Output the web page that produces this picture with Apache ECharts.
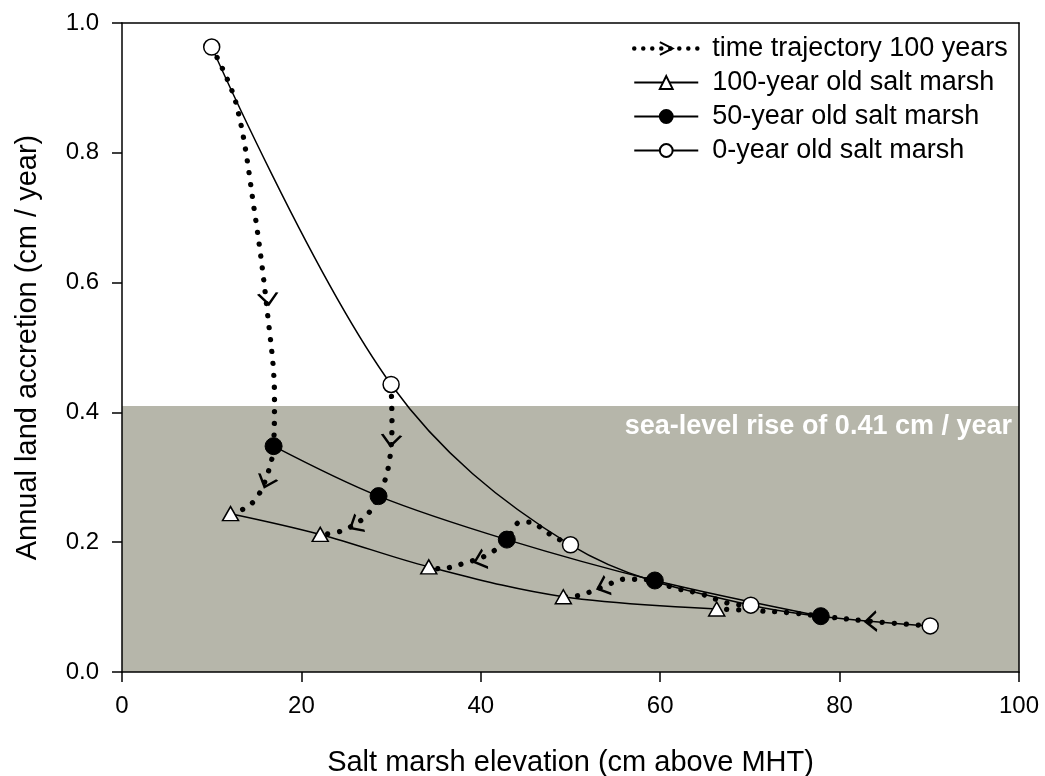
<!DOCTYPE html>
<html><head><meta charset="utf-8">
<script src="https://cdn.jsdelivr.net/npm/echarts@6/dist/echarts.min.js"></script>
<style>html,body{margin:0;padding:0;background:#fff}#chart{width:1045px;height:776px}</style>
</head><body><div id="chart"></div>
<script>
// ---- data ----
const xTicks = [0, 20, 40, 60, 80, 100];
const yTicks = [0.0, 0.2, 0.4, 0.6, 0.8, 1.0];
const xTitle = 'Salt marsh elevation (cm above MHT)';
const yTitle = 'Annual land accretion (cm / year)';
const seaLevelRise = 0.41;
const seaLevelLabel = 'sea-level rise of 0.41 cm / year';
const nameTraj = 'time trajectory 100 years';
const name100 = '100-year old salt marsh';
const name50 = '50-year old salt marsh';
const name0 = '0-year old salt marsh';

const marsh0 = [[10, 0.963], [30, 0.443], [50, 0.196], [70.1, 0.103], [90.1, 0.071]];
const marsh50 = [[16.9, 0.348], [28.6, 0.271], [42.9, 0.204], [59.4, 0.141], [77.9, 0.086]];
const marsh100 = [[12.1, 0.244], [22.1, 0.212], [34.2, 0.162], [49.2, 0.116], [66.3, 0.097]];

const traj10 = [[10, 0.963], [12.7, 0.877], [14.8, 0.707], [16.2, 0.555], [17.0, 0.424], [16.9, 0.348], [16.3, 0.308], [15.1, 0.270], [13.8, 0.253], [12.1, 0.244]];
const traj30 = [[30, 0.443], [30.1, 0.383], [29.7, 0.316], [28.6, 0.271], [27.1, 0.239], [24.4, 0.217], [22.1, 0.212]];
const traj50 = [[50, 0.196], [48.2, 0.208], [46.9, 0.220], [45.6, 0.231], [44.4, 0.231], [42.9, 0.204], [40.8, 0.181], [38.0, 0.167], [35.4, 0.159], [34.2, 0.162]];
const traj70 = [[70.1, 0.103], [67.9, 0.105], [64.4, 0.121], [61.4, 0.130], [59.4, 0.141], [56.0, 0.143], [53.6, 0.131], [50.6, 0.117], [49.2, 0.116]];
const traj90 = [[90.1, 0.071], [83.5, 0.078], [77.9, 0.086], [74.7, 0.091], [70.0, 0.095], [66.3, 0.097]];
const trajectories = [traj10, traj30, traj50, traj70, traj90];

// arrow heads on the trajectories: x, y, direction (degrees, counter-clockwise from +x)
const arrowX = [16.3, 16.1, 30.0, 26.0, 39.9, 53.6, 83.5];
const arrowY = [0.575, 0.293, 0.357, 0.226, 0.172, 0.131, 0.078];
const arrowDir = [276, 250, 265, 210, 198, 201, 183];

// ---- chart ----
const FONT = "'Liberation Sans', Arial, sans-serif";
const chevron = 'path://M0,0 L10,5 L0,10';
const chart = echarts.init(document.getElementById('chart'), null, {renderer: 'canvas'});

const trajSeries = trajectories.map((t, i) => ({
  name: nameTraj, type: 'line', data: t, smooth: 0.35, z: 2,
  symbol: chevron, symbolSize: [8, 12], showSymbol: false, silent: true,
  lineStyle: {color: '#000', width: 5.3, type: [0.01, 12], cap: 'round'},
  itemStyle: {color: 'rgba(0,0,0,0)', borderColor: '#000', borderWidth: 2}
}));

const option = {
  animation: false,
  backgroundColor: '#fff',
  textStyle: {fontFamily: FONT},
  grid: {left: 122, right: 26, top: 23, bottom: 104, containLabel: false, outerBoundsMode: 'none'},
  legend: {
    data: [
      {name: nameTraj, lineStyle: {width: 4.5, type: [0.01, 9], cap: 'round', color: '#000'}},
      name100, name50, name0
    ],
    orient: 'vertical', left: 627, top: 30,
    itemWidth: 64, itemHeight: 16, itemGap: 7,
    textStyle: {fontSize: 27, color: '#000', fontFamily: FONT, lineHeight: 26, padding: [0, 0, 0, 9]}
  },
  xAxis: [{
    type: 'value', min: xTicks[0], max: xTicks[xTicks.length - 1], interval: xTicks[1] - xTicks[0],
    name: xTitle, nameLocation: 'middle', nameGap: 76,
    nameTextStyle: {fontSize: 29, color: '#000', fontFamily: FONT},
    axisLine: {show: true, onZero: false, lineStyle: {color: '#000', width: 1.5}},
    axisTick: {show: true, inside: false, length: 10, lineStyle: {color: '#000', width: 1.5}},
    axisLabel: {fontSize: 24, color: '#000', margin: 22, fontFamily: FONT},
    splitLine: {show: false}, z: 10
  }, {
    type: 'value', position: 'top', min: xTicks[0], max: xTicks[xTicks.length - 1],
    axisLine: {show: true, onZero: false, lineStyle: {color: '#000', width: 1.5}},
    axisTick: {show: false}, axisLabel: {show: false}, splitLine: {show: false}, z: 10
  }],
  yAxis: [{
    type: 'value', min: yTicks[0], max: yTicks[yTicks.length - 1], interval: 0.2,
    name: yTitle, nameLocation: 'middle', nameGap: 80,
    nameTextStyle: {fontSize: 29, color: '#000', fontFamily: FONT},
    axisLine: {show: true, onZero: false, lineStyle: {color: '#000', width: 1.5}},
    axisTick: {show: true, inside: false, length: 10, lineStyle: {color: '#000', width: 1.5}},
    axisLabel: {fontSize: 24, color: '#000', margin: 23, fontFamily: FONT, formatter: v => v.toFixed(1)},
    splitLine: {show: false}, z: 10
  }, {
    type: 'value', position: 'right', min: yTicks[0], max: yTicks[yTicks.length - 1],
    axisLine: {show: true, onZero: false, lineStyle: {color: '#000', width: 1.5}},
    axisTick: {show: false}, axisLabel: {show: false}, splitLine: {show: false}, z: 10
  }],
  series: [
    {
      name: 'sea level', type: 'line', data: [], z: 1, silent: true,
      markArea: {
        silent: true,
        itemStyle: {color: '#b6b6aa'},
        label: {show: true, position: 'insideTopRight', distance: 7, color: '#fff',
          fontWeight: 'bold', fontSize: 27, fontFamily: FONT},
        data: [[{name: seaLevelLabel, xAxis: xTicks[0], yAxis: 0}, {xAxis: xTicks[xTicks.length - 1], yAxis: seaLevelRise}]]
      }
    },
    ...trajSeries,
    {
      name: 'arrows', type: 'scatter', z: 4, silent: true,
      symbol: chevron, symbolSize: [11, 19],
      itemStyle: {color: 'rgba(0,0,0,0)', borderColor: '#000', borderWidth: 2.2, opacity: 1},
      data: arrowX.map((x, i) => ({value: [x, arrowY[i]], symbolRotate: arrowDir[i]}))
    },
    {
      name: name100, type: 'line', data: marsh100, smooth: 0.35, z: 5, silent: true,
      symbol: 'triangle', symbolSize: [16, 14],
      lineStyle: {color: '#000', width: 1.5},
      itemStyle: {color: '#fff', borderColor: '#000', borderWidth: 1.5}
    },
    {
      name: name50, type: 'line', data: marsh50, smooth: 0.35, z: 5, silent: true,
      symbol: 'circle', symbolSize: 17,
      lineStyle: {color: '#000', width: 1.5},
      itemStyle: {color: '#000', borderColor: '#000', borderWidth: 1}
    },
    {
      name: name0, type: 'line', data: marsh0, smooth: 0.35, z: 5, silent: true,
      symbol: 'circle', symbolSize: 16,
      lineStyle: {color: '#000', width: 1.5},
      itemStyle: {color: '#fff', borderColor: '#000', borderWidth: 1.5}
    }
  ]
};
chart.setOption(option);
</script>
</body></html>
